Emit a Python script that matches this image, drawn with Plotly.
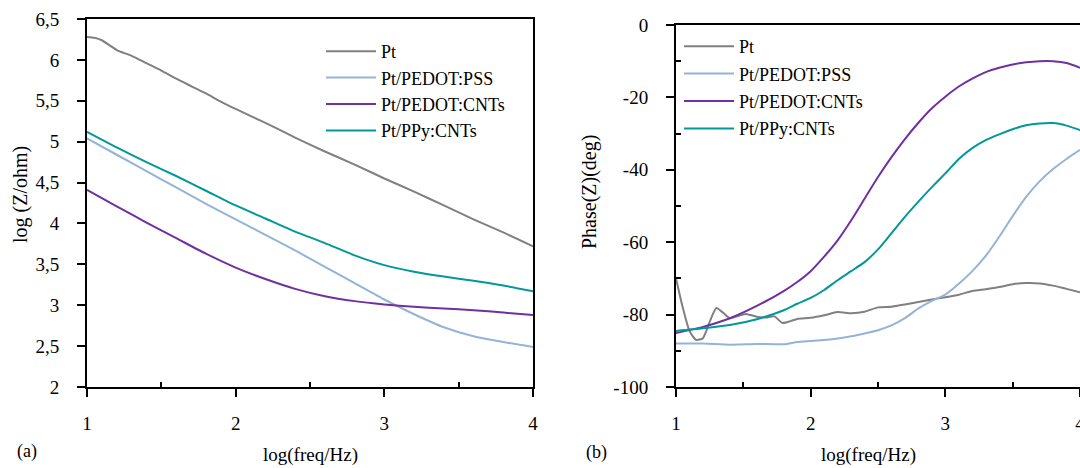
import plotly.graph_objects as go

# ---------------- data ----------------
# (a) impedance modulus, log(Z/ohm) vs log(freq/Hz)
x_imp_pt = [1.0, 1.05, 1.1, 1.15, 1.2, 1.3, 1.4, 1.5, 1.6, 1.7, 1.8, 1.9, 2.0,
            2.2, 2.4, 2.6, 2.8, 3.0, 3.2, 3.4, 3.6, 3.8, 4.0]
imp_pt = [6.28, 6.27, 6.24, 6.18, 6.12, 6.05, 5.96, 5.87, 5.77, 5.68, 5.59, 5.49, 5.40,
          5.23, 5.05, 4.88, 4.72, 4.55, 4.39, 4.22, 4.05, 3.89, 3.72]

x_imp = [1.0, 1.2, 1.4, 1.6, 1.8, 2.0, 2.2, 2.4, 2.6, 2.8, 3.0, 3.2, 3.4, 3.6, 3.8, 4.0]
imp_pss = [5.04, 4.84, 4.64, 4.44, 4.24, 4.05, 3.86, 3.67, 3.47, 3.27, 3.07, 2.89, 2.73, 2.62, 2.55, 2.49]
imp_pedot_cnt = [4.41, 4.21, 4.01, 3.82, 3.63, 3.46, 3.32, 3.20, 3.11, 3.05, 3.01, 2.98, 2.96, 2.94, 2.91, 2.88]
imp_ppy_cnt = [5.12, 4.93, 4.75, 4.58, 4.40, 4.22, 4.06, 3.90, 3.76, 3.61, 3.49, 3.41, 3.35, 3.30, 3.24, 3.17]

# (b) phase angle, Phase(Z) (deg) vs log(freq/Hz)
x_ph_pt = [1.0, 1.05, 1.1, 1.15, 1.2, 1.25, 1.3, 1.35, 1.4, 1.47, 1.52, 1.6, 1.67, 1.73, 1.79,
           1.85, 1.9, 2.0, 2.1, 2.2, 2.3, 2.4, 2.5, 2.6, 2.7, 2.8, 2.9, 3.0, 3.1, 3.2, 3.3,
           3.4, 3.5, 3.6, 3.7, 3.8, 3.9, 4.0]
ph_pt = [-70.0, -78.0, -84.5, -87.0, -86.5, -82.0, -78.2, -79.5, -81.0, -80.3, -79.8, -80.6, -80.8,
         -80.5, -82.3, -81.8, -81.2, -80.9, -80.2, -79.3, -79.6, -79.2, -78.0, -77.8, -77.2, -76.5,
         -75.8, -75.2, -74.5, -73.5, -73.0, -72.4, -71.6, -71.3, -71.4, -72.0, -72.9, -73.8]

x_ph = [1.0, 1.2, 1.4, 1.6, 1.8, 1.9, 2.0, 2.1, 2.2, 2.3, 2.4, 2.5, 2.6, 2.7, 2.8, 2.9,
        3.0, 3.1, 3.2, 3.3, 3.4, 3.5, 3.6, 3.7, 3.8, 3.9, 4.0]
ph_pss = [-88.0, -88.0, -88.3, -88.1, -88.2, -87.6, -87.3, -87.0, -86.6, -86.0, -85.2, -84.3,
          -83.0, -81.0, -78.3, -76.2, -74.5, -71.5, -68.0, -63.8, -58.5, -52.8, -47.5, -43.2,
          -39.8, -37.0, -34.5]
ph_pedot_cnt = [-85.1, -83.4, -81.0, -77.6, -73.5, -71.0, -68.0, -64.0, -59.5, -54.0, -48.0, -42.0,
                -36.5, -31.5, -27.0, -23.0, -19.8, -17.0, -14.8, -13.0, -11.8, -10.9, -10.3,
                -10.0, -10.0, -10.5, -11.8]
ph_ppy_cnt = [-84.5, -83.8, -82.9, -81.3, -78.8, -77.0, -75.4, -73.2, -70.5, -68.0, -65.5, -62.0,
              -57.5, -53.0, -48.8, -44.8, -41.0, -37.0, -34.0, -31.8, -30.2, -28.8, -27.7,
              -27.2, -27.1, -27.8, -29.0]

series_names = ["Pt", "Pt/PEDOT:PSS", "Pt/PEDOT:CNTs", "Pt/PPy:CNTs"]
series_colors = ["#808080", "#95b3d7", "#7030a0", "#009999"]

x_ticks = [1, 2, 3, 4]
x_tick_labels = ["1", "2", "3", "4"]
x_minor = [1.5, 2.5, 3.5]
imp_ticks = [2, 2.5, 3, 3.5, 4, 4.5, 5, 5.5, 6, 6.5]
imp_tick_labels = ["2", "2,5", "3", "3,5", "4", "4,5", "5", "5,5", "6", "6,5"]
ph_ticks = [-100, -80, -60, -40, -20, 0]
ph_tick_labels = ["-100", "-80", "-60", "-40", "-20", "0"]
ph_minor = [-90, -70, -50, -30, -10]

# ---------------- figure ----------------
W, H = 1080, 468
FONT = "Liberation Serif, DejaVu Serif, serif"

def fx(p):
    return p / W

def fy(p):
    return 1 - p / H

fig = go.Figure()

imp_sets = [(x_imp_pt, imp_pt), (x_imp, imp_pss), (x_imp, imp_pedot_cnt), (x_imp, imp_ppy_cnt)]
ph_sets = [(x_ph_pt, ph_pt), (x_ph, ph_pss), (x_ph, ph_pedot_cnt), (x_ph, ph_ppy_cnt)]

for i, ((xs, ys), name, col) in enumerate(zip(imp_sets, series_names, series_colors)):
    fig.add_trace(go.Scatter(x=xs, y=ys, mode="lines", name=name, legendgroup="a%d" % i,
                             line=dict(color=col, width=2, shape="spline", smoothing=0.6),
                             xaxis="x", yaxis="y", legend="legend"))
for i, ((xs, ys), name, col) in enumerate(zip(ph_sets, series_names, series_colors)):
    fig.add_trace(go.Scatter(x=xs, y=ys, mode="lines", name=name, legendgroup="b%d" % i,
                             line=dict(color=col, width=2, shape="spline", smoothing=0.6),
                             xaxis="x2", yaxis="y2", legend="legend2"))

tickfont = dict(family=FONT, size=19, color="black")

def main_axis(domain, rng, tickvals, ticktext, minor_vals, mirror, anchor, standoff):
    d = dict(domain=domain, range=rng, tickmode="array", tickvals=tickvals, ticktext=ticktext,
             ticks="outside", ticklen=8, tickwidth=2, tickcolor="black",
             showline=True, linewidth=2, linecolor="black", mirror=mirror,
             showgrid=False, zeroline=False, tickfont=tickfont, anchor=anchor,
             ticklabelstandoff=standoff, automargin=False, ticklabeloverflow="allow")
    if minor_vals:
        d["minor"] = dict(tickmode="array", tickvals=minor_vals, ticks="inside",
                          ticklen=5, tickwidth=2, tickcolor="black", showgrid=False)
    return d

def overlay_axis(over, rng, tickvals, anchor, side):
    return dict(overlaying=over, range=rng, tickmode="array", tickvals=tickvals,
                ticks="inside", ticklen=5, tickwidth=2, tickcolor="black",
                showticklabels=False, showline=False, showgrid=False, zeroline=False,
                anchor=anchor, side=side, automargin=False)

left_x = [fx(87), fx(533)]
left_y = [fy(387), fy(19)]
right_x = [fx(676), 1.0]
right_y = [fy(387), fy(25)]

fig.update_layout(
    width=W, height=H,
    margin=dict(l=0, r=0, t=0, b=0, autoexpand=False),
    paper_bgcolor="white", plot_bgcolor="white",
    font=dict(family=FONT, size=17, color="black"),
    xaxis=main_axis(left_x, [1, 4], x_ticks, x_tick_labels, x_minor, True, "y", 10),
    yaxis=main_axis(left_y, [2, 6.5], imp_ticks, imp_tick_labels, None, True, "x", 14),
    xaxis2=main_axis(right_x, [1, 4], x_ticks, x_tick_labels, x_minor, True, "y2", 10),
    yaxis2=main_axis(right_y, [-100, 0], ph_ticks, ph_tick_labels, ph_minor, False, "x2", 14),
    xaxis3=overlay_axis("x", [1, 4], x_ticks, "y", "bottom"),
    yaxis3=overlay_axis("y", [2, 6.5], imp_ticks, "x", "left"),
    xaxis4=overlay_axis("x2", [1, 4], x_ticks, "y2", "bottom"),
    yaxis4=overlay_axis("y2", [-100, 0], ph_ticks, "x2", "left"),
    legend=dict(x=fx(321), y=fy(33), xanchor="left", yanchor="top",
                bgcolor="rgba(0,0,0,0)", font=dict(family=FONT, size=18),
                tracegroupgap=0, itemwidth=50),
    legend2=dict(x=fx(679), y=fy(28), xanchor="left", yanchor="top",
                 bgcolor="rgba(0,0,0,0)", font=dict(family=FONT, size=18),
                 tracegroupgap=1, itemwidth=50),
    showlegend=True,
)

ann_font = dict(family=FONT, size=19, color="black")
annotations = [
    dict(text="log(freq/Hz)", x=fx(310), y=fy(455), xref="paper", yref="paper",
         showarrow=False, xanchor="center", yanchor="middle", font=ann_font),
    dict(text="log(freq/Hz)", x=fx(868), y=fy(455), xref="paper", yref="paper",
         showarrow=False, xanchor="center", yanchor="middle", font=ann_font),
    dict(text="log (Z/ohm)", x=fx(20), y=fy(195), xref="paper", yref="paper", textangle=-90,
         showarrow=False, xanchor="center", yanchor="middle", font=dict(family=FONT, size=20)),
    dict(text="Phase(Z)(deg)", x=fx(589), y=fy(192), xref="paper", yref="paper", textangle=-90,
         showarrow=False, xanchor="center", yanchor="middle", font=dict(family=FONT, size=20)),
    dict(text="(a)", x=fx(27), y=fy(451), xref="paper", yref="paper",
         showarrow=False, xanchor="center", yanchor="middle", font=dict(family=FONT, size=18)),
    dict(text="(b)", x=fx(596), y=fy(452), xref="paper", yref="paper",
         showarrow=False, xanchor="center", yanchor="middle", font=dict(family=FONT, size=18)),
]
fig.update_layout(annotations=annotations)

fig.write_html(
    "out.html",
    config={"displayModeBar": False},
    post_script="document.body.style.margin='0';document.body.style.overflow='hidden';",
)
